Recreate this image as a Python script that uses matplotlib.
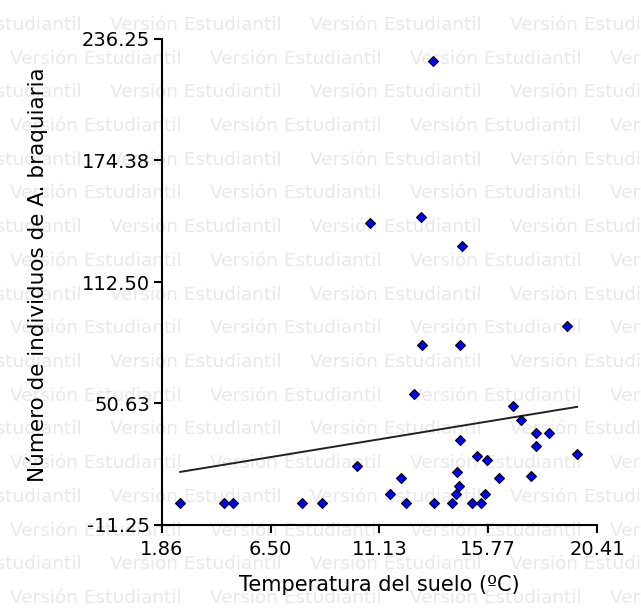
import numpy as np
import matplotlib
matplotlib.use("Agg")
import matplotlib.pyplot as plt

# ---- data ----
temp = [2.64, 4.51, 4.88, 7.85, 8.70, 10.17, 11.58, 12.04, 12.26, 12.62,
        12.96, 13.47, 14.24, 14.39, 14.51, 14.42, 14.58, 14.58, 15.09, 15.28,
        15.46, 15.63, 15.71, 16.23, 16.81, 17.15, 17.59, 17.83, 17.83, 18.36,
        19.12, 19.56, 13.40, 10.74, 12.89, 14.66]
count = [0, 0, 0, 0, 0, 19, 4.5, 12.5, 0, 55.5,
         80.6, 0, 0, 4.5, 8.6, 15.9, 80.6, 32, 0, 24,
         0, 4.5, 22, 12.5, 49.5, 42.2, 13.7, 35.4, 29, 35.4,
         90.3, 25.1, 225, 142.4, 145.5, 131]
xticks = [1.86, 6.50, 11.13, 15.77, 20.41]
xtick_labels = ["1.86", "6.50", "11.13", "15.77", "20.41"]
yticks = [-11.25, 50.63, 112.50, 174.38, 236.25]
ytick_labels = ["-11.25", "50.63", "112.50", "174.38", "236.25"]
xlabel = "Temperatura del suelo (ºC)"
ylabel = "Número de individuos de A. braquiaria"
watermark = "Versión Estudiantil"

plt.rcParams['font.family'] = ['DejaVu Sans']

W, H = 641, 612
fig = plt.figure(figsize=(W / 100, H / 100), dpi=100)
fig.patch.set_facecolor("white")

# watermark grid
row_gap = 33.7
k = 0
y0 = 25
while y0 + k * row_gap < H + 10:
    yc = y0 + k * row_gap
    start = -90 if k % 2 == 0 else -190
    xs = start
    while xs < W:
        fig.text(xs / W, 1 - yc / H, watermark, fontsize=13.3, color="#e8e8e8",
                 ha="left", va="center", zorder=-5)
        xs += 200
    k += 1

ax = fig.add_axes([162 / W, (H - 525) / H, (597 - 162) / W, (525 - 39) / H])
ax.patch.set_alpha(0)

x = np.array(temp)
y = np.array(count)
b, a = np.polyfit(x, y, 1)
xl = np.array([x.min(), x.max()])
ax.plot(xl, a + b * xl, color="#202020", lw=1.4, zorder=2)
ax.plot(x, y, linestyle="none", marker="D", ms=5.2, mfc="#0000ff", mec="black",
        mew=0.8, zorder=3, clip_on=False)

ax.set_xlim(xticks[0], xticks[-1])
ax.set_ylim(yticks[0], yticks[-1])
ax.set_xticks(xticks)
ax.set_xticklabels(xtick_labels)
ax.set_yticks(yticks)
ax.set_yticklabels(ytick_labels)
for s in ["top", "right"]:
    ax.spines[s].set_visible(False)
for s in ["left", "bottom"]:
    ax.spines[s].set_linewidth(1.5)
ax.tick_params(direction="out", length=5.5, width=1.5, labelsize=14,
               colors="black")
ax.tick_params(axis="x", pad=5)
ax.tick_params(axis="y", pad=3)

ax.set_xlabel(xlabel, fontsize=15)
ax.xaxis.set_label_coords(0.5, -(585 - 525) / (525 - 39), transform=ax.transAxes)
ax.set_ylabel(ylabel, fontsize=15.5)
ax.yaxis.set_label_coords(-(162 - 37) / (597 - 162), (525 - 275) / (525 - 39))
ax.xaxis.label.set_va("center")
ax.yaxis.label.set_va("center")

fig.savefig("out.png", dpi=100)
